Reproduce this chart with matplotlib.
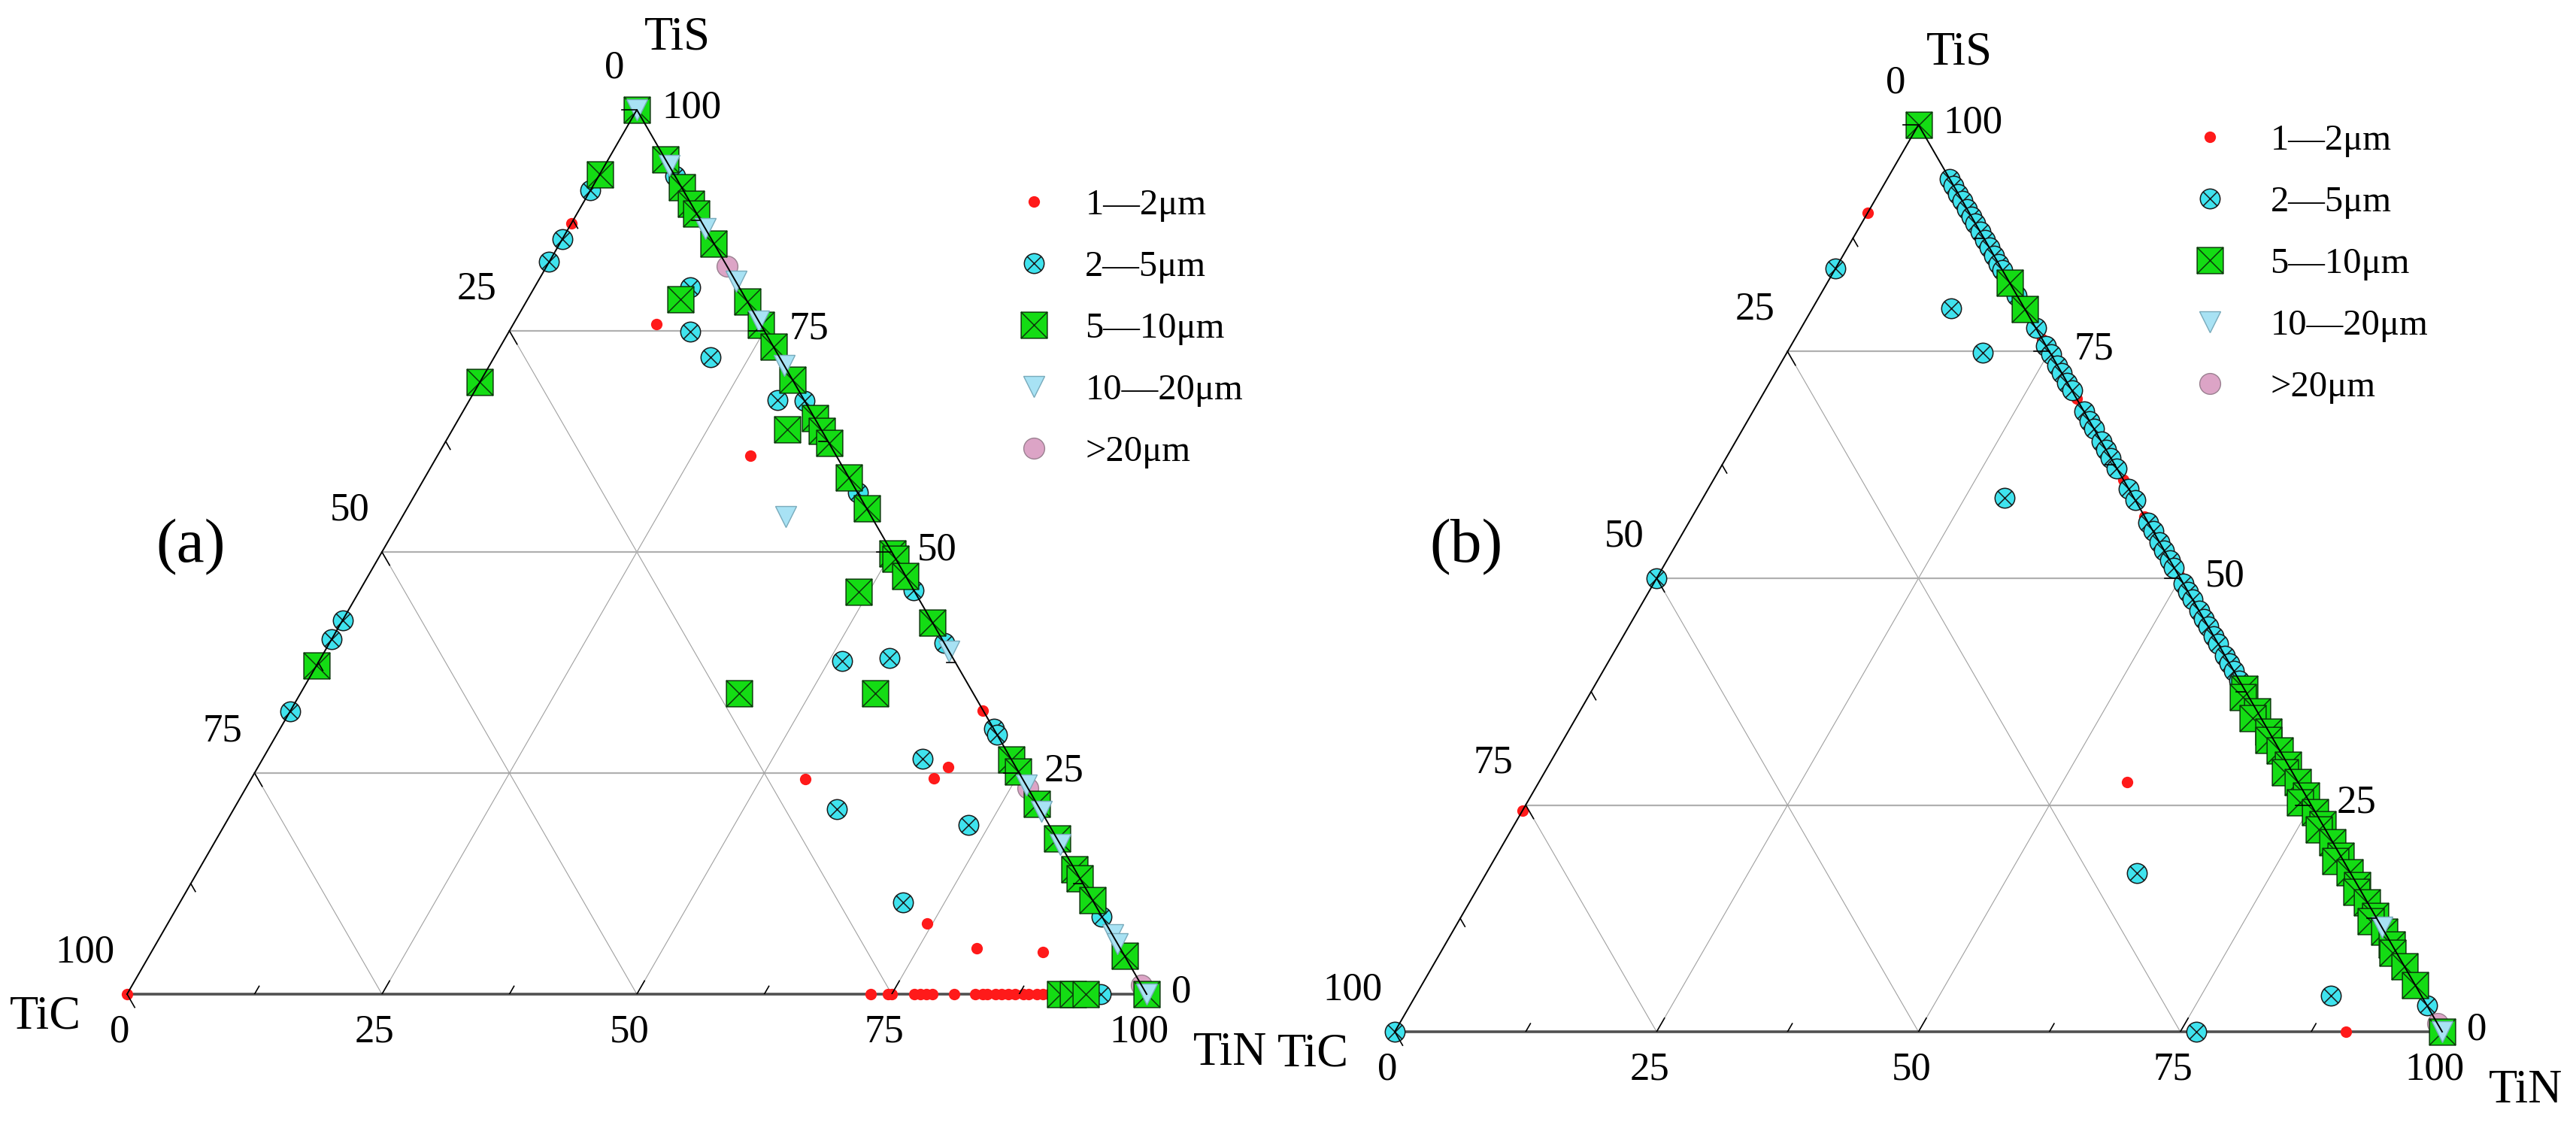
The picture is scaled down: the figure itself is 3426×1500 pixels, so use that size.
import numpy as np
import matplotlib.pyplot as plt
from matplotlib.path import Path

plt.rcParams['font.family'] = ['Liberation Serif', 'DejaVu Serif']

# compositions in %, TiN = 100 - TiC - TiS
# ---------------- panel (a) ----------------
a_red_tic = [12.8, 10.2, 8.4, 0.0, 6.6, 8.7, 21.3, 17.5, 14.1, 7.8, 100.0,
             27.1, 25.4, 25.0, 22.8, 22.2, 21.6, 21.0, 18.9, 16.8, 16.1, 15.6,
             14.8, 14.2, 13.6, 12.9, 12.1, 11.6, 10.8, 10.2, 9.6]
a_red_tis = [87.2, 75.8, 60.9, 32.1, 25.7, 24.4, 24.3, 8.0, 5.2, 4.8, 0,
             0, 0, 0, 0, 0, 0, 0, 0, 0, 0, 0,
             0, 0, 0, 0, 0, 0, 0, 0, 0]

a_cyan_tic = [9.1, 14.6, 17.2, 57.7, 59.9, 68.0, 4.8, 7.3, 6.8, 2.6, 11.0, 6.2,
              8.7, 19.9, 7.9, 18.7, 0, 0, 0, 0, 0, 0, 0, 0, 4.5]
a_cyan_tis = [90.9, 85.4, 82.8, 42.3, 40.1, 32.0, 79.9, 74.9, 72.0, 67.2, 37.7, 38.0,
              26.6, 20.9, 19.1, 10.4, 92.5, 67.1, 56.7, 45.7, 39.7, 30.0, 29.3, 8.8, 0]

a_green_tic = [0, 7.3, 30.8, 62.8, 6.4, 3.3, 5.5, 23.0, 9.6,
               0, 0, 0, 0, 0, 0, 0, 0, 0, 0, 0, 0, 0, 0, 0, 0, 0, 0,
               0, 0, 0, 0, 0, 0, 0, 0, 0, 8.5, 7.2, 6.0]
a_green_tis = [100, 92.7, 69.2, 37.2, 78.6, 63.9, 45.5, 34.0, 34.0,
               94.4, 91.2, 89.4, 88.3, 84.9, 78.3, 75.7, 73.2, 69.5, 65.1, 63.7, 62.3,
               58.4, 54.9, 49.8, 49.2, 47.3, 42.0,
               26.5, 25.2, 21.5, 17.6, 14.1, 13.1, 10.6, 4.3, 0, 0, 0, 0]

a_ltri_tic = [0, 0, 0, 0, 0, 0, 0, 0, 0, 0, 0, 0, 0, 8.4]
a_ltri_tis = [100, 93.7, 86.6, 80.6, 76.1, 71.1, 38.8, 23.6, 20.7, 16.9, 6.7, 5.7, 0, 54.0]

a_pink_tic = [0, 0, 0, 0]
a_pink_tis = [100, 82.3, 23.3, 1.0]

# ---------------- panel (b) ----------------
b_red_tic = [9.7, 75.6, 16.3, 9.2, 0, 0, 0, 0, 0]
b_red_tis = [90.3, 24.4, 27.5, 0, 76.4, 69.8, 60.9, 56.8, 50.3]

b_cyan_tic = [15.8, 50.0, 100.0, 7.0, 6.4, 12.3, 20.4, 8.6, 23.5,
              0, 0, 0, 0, 0, 0, 0, 0, 0, 0, 0, 0, 0, 0, 0, 0, 0, 0, 0, 0, 0,
              0, 0, 0, 0, 0, 0, 0, 0, 0, 0, 0, 0, 0, 0, 0, 0, 0, 0, 0, 0, 0,
              0, 0, 0, 0, 0, 0, 0]
b_cyan_tis = [84.2, 50.0, 0, 79.8, 74.9, 58.9, 17.5, 4.0, 0,
              94.0, 93.3, 92.4, 91.6, 90.7, 89.9, 89.1, 88.2, 87.3, 86.5, 85.6, 84.7,
              84.0, 81.2, 77.6, 75.6, 74.7, 73.5, 72.6, 71.6, 70.7, 68.4, 67.3, 66.5,
              65.1, 64.2, 63.3, 62.1, 59.9, 58.6, 56.1, 55.2, 54.0, 53.1, 52.0, 51.2,
              49.4, 48.5, 47.7, 46.4, 45.5, 44.7, 43.6, 42.8, 41.5, 40.6, 39.8, 38.7, 2.9]

b_green_tic = [0, 0, 0,
               0, 0.6, 0, 0.8, 0, 0.5, 0, 0, 0.7, 0, 0, 0.9, 0, 0, 0.6, 0,
               0, 0.8, 0, 0, 0.5, 0, 0, 0.7, 0, 0, 0.4, 0, 0, 0]
b_green_tis = [100, 82.6, 79.7,
               37.8, 36.9, 35.3, 34.6, 33.1, 32.2, 31.0, 29.4, 28.6, 27.5, 26.0, 25.3,
               24.2, 22.9, 22.3, 20.9, 19.4, 18.8, 17.6, 16.2, 15.4, 14.3, 12.8, 12.2,
               11.0, 9.6, 8.7, 7.2, 5.1, 0]

b_ltri_tic = [0, 0]
b_ltri_tis = [11.5, 0]

b_pink_tic = [0]
b_pink_tis = [0.9]

size_labels = ["1\u20142\u03bcm", "2\u20145\u03bcm", "5\u201410\u03bcm",
               "10\u201420\u03bcm", ">20\u03bcm"]
tick_vals = [0, 25, 50, 75, 100]

SQ3 = np.sqrt(3) / 2
W, H = 3426, 1500


def to_xy(tic, tis):
    tic = np.asarray(tic, float)
    tis = np.asarray(tis, float)
    tin = 100 - tic - tis
    return tin + tis / 2, tis * SQ3


# circle / square with an x inside
d = np.sqrt(0.5)
M, L_, C_ = Path.MOVETO, Path.LINETO, Path.CLOSEPOLY
circ_x = Path.make_compound_path(
    Path.unit_circle(),
    Path([(-d, -d), (d, d), (-d, d), (d, -d)], [M, L_, M, L_]))
sq_x = Path.make_compound_path(
    Path([(-1, -1), (1, -1), (1, 1), (-1, 1), (-1, -1)], [M, L_, L_, L_, C_]),
    Path([(-1, -1), (1, 1), (-1, 1), (1, -1)], [M, L_, M, L_]))

styles = [
    dict(marker='o', ms=11, mfc='#ff1a1a', mec='none', zorder=3),
    dict(marker=circ_x, ms=19, mfc='#3fe3ee', mec='#1a1a1a', mew=1.1, zorder=4),
    dict(marker=sq_x, ms=25, mfc='#14dc14', mec='#0b3b0b', mew=1.1, zorder=6),
    dict(marker='v', ms=20, mfc='#a8e2f4', mec='#78aabb', mew=1.0, zorder=7),
    dict(marker='o', ms=20, mfc='#dca4c6', mec='#9a8090', mew=1.0, zorder=5),
]


def draw_frame(ax):
    for v in (25, 50, 75):
        x, y = to_xy([100 - v, 0], [v, v])
        ax.plot(x, y, color='#b0b0b0', lw=1.6, zorder=1)
        x, y = to_xy([100 - v, 0], [0, 100 - v])
        ax.plot(x, y, color='#a0a0a0', lw=0.8, zorder=1)
        x, y = to_xy([v, v], [0, 100 - v])
        ax.plot(x, y, color='#a0a0a0', lw=0.8, zorder=1)
    ax.plot([0, 50, 100], [0, 100 * SQ3, 0], color='black', lw=1.4, zorder=9,
            clip_on=False)
    ax.plot([0, 100], [0, 0], color='#505050', lw=2.6, zorder=2, clip_on=False)

    for v in np.arange(12.5, 100.1, 12.5):
        ln = 1.5 if v % 25 == 0 else 0.9
        if v < 100:
            ax.plot([v, v + ln * 0.5], [0, ln * SQ3], color='black', lw=1.2, zorder=9)
        x, y = to_xy(0, v)
        ax.plot([x, x - ln], [y, y], color='black', lw=1.2, zorder=9, clip_on=False)
        x, y = to_xy(v, 100 - v)
        ax.plot([x, x + ln * 0.5], [y, y - ln * SQ3], color='black', lw=1.2, zorder=9,
                clip_on=False)

    for v in tick_vals:
        ax.annotate(str(v), to_xy(100 - v, 0), xytext=(-7, -36),
                    textcoords='offset points', ha='center', va='center', fontsize=38)
        ax.annotate(str(v), to_xy(v, 100 - v), xytext=(-12, 40),
                    textcoords='offset points', ha='right', va='center', fontsize=38)
        ax.annotate(str(v), to_xy(0, v), xytext=(24, 2),
                    textcoords='offset points', ha='left', va='center', fontsize=38)

    ax.annotate('TiS', (50, 100 * SQ3), xytext=(39, 69), textcoords='offset points',
                ha='center', va='center', fontsize=45)
    ax.annotate('TiC', (0, 0), xytext=(-78, -22), textcoords='offset points',
                ha='center', va='center', fontsize=45)
    ax.annotate('TiN', (100, 0), xytext=(80, -57), textcoords='offset points',
                ha='center', va='center', fontsize=45)


def panel(rect, series, tag, tag_xy, leg_xy, leg_pad):
    ax = fig.add_axes(rect)
    ax.set_xlim(0, 100)
    ax.set_ylim(0, 100 * SQ3)
    ax.axis('off')
    draw_frame(ax)
    handles = []
    for (tic, tis), st in zip(series, styles):
        x, y = to_xy(tic, tis)
        h, = ax.plot(x, y, ls='none', clip_on=False, **st)
        handles.append(h)
    ax.legend(handles, size_labels, loc='upper left',
              bbox_to_anchor=(leg_xy[0] / W, 1 - leg_xy[1] / H),
              bbox_transform=fig.transFigure, frameon=False, fontsize=35,
              handlelength=1.0, handletextpad=leg_pad, labelspacing=0.78,
              borderpad=0, borderaxespad=0, numpoints=1)
    fig.text(tag_xy[0] / W, 1 - tag_xy[1] / H, tag, fontsize=60,
             ha='center', va='center')
    return ax


fig = plt.figure(figsize=(W / 100, H / 100), dpi=100)

panel([169 / W, (H - 1322) / H, 1356 / W, 1176 / H],
      [(a_red_tic, a_red_tis), (a_cyan_tic, a_cyan_tis), (a_green_tic, a_green_tis),
       (a_ltri_tic, a_ltri_tis), (a_pink_tic, a_pink_tis)],
      '(a)', (254, 728), (1351, 251), 0.9)

panel([1855 / W, (H - 1372) / H, 1393 / W, 1206 / H],
      [(b_red_tic, b_red_tis), (b_cyan_tic, b_cyan_tis), (b_green_tic, b_green_tis),
       (b_ltri_tic, b_ltri_tis), (b_pink_tic, b_pink_tis)],
      '(b)', (1950, 728), (2915, 165), 1.15)

fig.savefig('out.png', dpi=100)
